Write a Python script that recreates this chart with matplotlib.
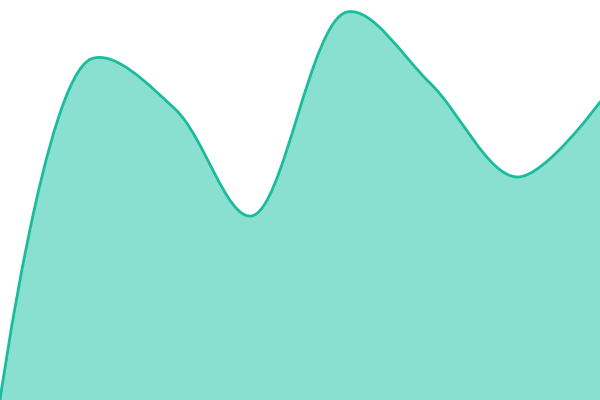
import matplotlib
matplotlib.use("Agg")
import matplotlib.pyplot as plt
import numpy as np
from matplotlib.path import Path
from matplotlib.patches import PathPatch

# data: sample positions and values (0..400 scale)
x_vals = [0, 91, 175, 251, 347, 430, 517, 600]
y_vals = [0, 341, 291, 184, 388, 317, 223, 298]

LINE = "#1abc9c"
FILL = "#89e0d0"


def catmull_rom_path(ax, xs, ys, alpha=0.5):
    """Centripetal Catmull-Rom as cubic beziers (d3 curveCatmullRom style),
    computed in display space so it looks like the original."""
    pts = ax.transData.transform(np.column_stack([xs, ys]).astype(float))
    n = len(pts)
    verts = [pts[0]]
    codes = [Path.MOVETO]
    for i in range(n - 1):
        p1, p2 = pts[i], pts[i + 1]
        l12 = np.hypot(*(p2 - p1)) ** alpha
        c1, c2 = p1.copy(), p2.copy()
        if i > 0:
            p0 = pts[i - 1]
            l01 = np.hypot(*(p1 - p0)) ** alpha
            a = 2 * l01 ** 2 + 3 * l01 * l12 + l12 ** 2
            m = 3 * l01 * (l01 + l12)
            c1 = (p1 * a - p0 * l12 ** 2 + p2 * l01 ** 2) / m
        if i < n - 2:
            p3 = pts[i + 2]
            l23 = np.hypot(*(p3 - p2)) ** alpha
            b = 2 * l23 ** 2 + 3 * l23 * l12 + l12 ** 2
            m = 3 * l23 * (l23 + l12)
            c2 = (p2 * b + p1 * l23 ** 2 - p3 * l12 ** 2) / m
        verts += [c1, c2, p2]
        codes += [Path.CURVE4] * 3
    verts = ax.transData.inverted().transform(np.array(verts))
    return [tuple(v) for v in verts], codes


fig = plt.figure(figsize=(6, 4), dpi=100)
ax = fig.add_axes([0, 0, 1, 1])
ax.set_xlim(0, 600)
ax.set_ylim(0, 400)
ax.axis("off")

verts, codes = catmull_rom_path(ax, x_vals, y_vals)
area_verts = verts + [(x_vals[-1], 0), (x_vals[0], 0), verts[0]]
area_codes = codes + [Path.LINETO, Path.LINETO, Path.CLOSEPOLY]
ax.add_patch(PathPatch(Path(area_verts, area_codes), facecolor=FILL,
                       edgecolor="none"))
ax.add_patch(PathPatch(Path(verts, codes), facecolor="none",
                       edgecolor=LINE, lw=2.0, capstyle="round",
                       joinstyle="round"))

fig.savefig("out.png", dpi=100)
